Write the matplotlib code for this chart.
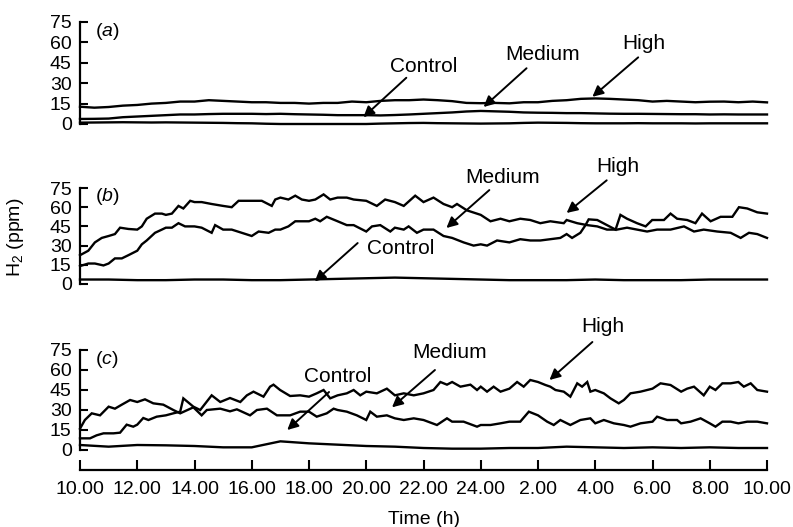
import matplotlib
matplotlib.use('Agg')
import matplotlib.pyplot as plt

plt.rcParams['font.family'] = ['Liberation Sans', 'DejaVu Sans']
plt.rcParams['mathtext.fontset'] = 'custom'
plt.rcParams['mathtext.rm'] = 'Liberation Sans'
plt.rcParams['mathtext.it'] = 'Liberation Sans:italic'

# ---------------- data ----------------
hours = list(range(0, 25))
half_hours = [i * 0.5 for i in range(49)]
tick_hours = list(range(0, 25, 2))
tick_labels = ['10.00', '12.00', '14.00', '16.00', '18.00', '20.00', '22.00',
               '24.00', '2.00', '4.00', '6.00', '8.00', '10.00']
y_ticks = [0, 15, 30, 45, 60, 75]
panel_labels = ['a', 'b', 'c']

# panel (a), half-hourly readings
a_high = [12.7, 12.0, 12.5, 13.5, 14.0, 15.0, 15.5,
          16.5, 16.5, 17.5, 17.0, 16.5, 16.0, 16.0,
          15.5, 15.5, 15.0, 15.5, 15.5, 16.5, 16.0,
          17.0, 17.5, 17.5, 18.0, 17.5, 16.8, 15.5,
          15.3, 15.5, 15.2, 16.0, 16.0, 17.0, 17.5,
          18.5, 18.8, 18.5, 18.0, 17.5, 16.5, 17.0,
          16.5, 16.0, 16.4, 16.5, 16.0, 16.5, 15.9]
a_medium = [3.7, 3.8, 4.0, 5.0, 5.5, 6.0, 6.5,
            7.0, 7.0, 7.3, 7.5, 7.5, 7.5, 7.3,
            7.5, 7.2, 7.0, 6.8, 6.5, 6.5, 6.5,
            6.3, 6.6, 7.0, 7.5, 8.0, 8.5, 9.2,
            9.6, 9.3, 9.0, 8.5, 8.3, 8.2, 8.0,
            8.0, 7.8, 7.6, 7.5, 7.5, 7.4, 7.3,
            7.2, 7.2, 7.0, 7.1, 7.0, 7.0, 7.0]
a_control = [1.0, 1.1, 1.2, 1.3, 1.2, 1.1, 1.2,
             1.1, 1.0, 0.9, 0.8, 0.6, 0.5, 0.2,
             0.0, 0.0, 0.0, 0.0, 0.0, 0.0, 0.0,
             0.3, 0.5, 0.7, 0.8, 0.6, 0.5, 0.4,
             0.3, 0.4, 0.5, 0.8, 1.0, 0.9, 0.8,
             0.6, 0.5, 0.5, 0.5, 0.6, 0.5, 0.5,
             0.5, 0.4, 0.5, 0.5, 0.5, 0.5, 0.5]

# panel (b)
b_high_t = [0.0, 0.29, 0.52, 0.76, 1.0, 1.22, 1.4, 1.69, 2.0, 2.16, 2.33, 2.62, 2.86,
            3.0, 3.21, 3.44, 3.61, 3.85, 4.0, 4.25, 4.6, 5.0, 5.3, 5.54, 6.0, 6.35,
            6.7, 6.82, 7.0, 7.28, 7.52, 7.75, 8.0, 8.22, 8.51, 8.74, 9.0, 9.32, 9.56,
            10.0, 10.37, 10.66, 11.0, 11.31, 11.71, 12.0, 12.35, 12.7, 13.0, 13.17,
            13.52, 14.0, 14.34, 14.69, 15.0, 15.38, 15.73, 16.08, 16.43, 16.9, 17.0,
            17.37, 17.72, 18.07, 18.41, 18.76, 19.11, 19.46, 19.81, 20.16, 20.63,
            21.1, 21.45, 21.79, 22.26, 22.73, 23.08, 23.37, 23.66, 24.0]
b_high_v = [22.5, 26, 32.5, 36, 37.5, 39, 44, 43, 42.5, 45, 51, 55, 55,
            54, 55, 61, 59, 65, 64, 64, 62.5, 61, 60, 65, 65, 65,
            61, 66, 67.5, 66, 69, 66, 65, 66, 70, 66, 67.5, 67.5, 66,
            65, 61, 66, 64, 61, 69, 64, 67.5, 62.5, 60, 62.5,
            57.5, 54, 49, 51, 49, 51, 50, 47.5, 49, 47.5, 50,
            47.5, 46, 45, 42.5, 42.5, 44, 42.5, 41, 42.5, 42.5,
            45, 41, 42.5, 41, 40, 36, 40, 39, 36]
b_medium_t = [0.0, 0.29, 0.52, 0.82, 1.0, 1.22, 1.46, 1.69, 2.0, 2.16, 2.33, 2.62, 2.86,
              3.0, 3.21, 3.44, 3.67, 4.0, 4.25, 4.6, 4.72, 5.0, 5.3, 5.65, 6.0, 6.24,
              6.59, 6.82, 7.0, 7.28, 7.52, 7.75, 8.0, 8.22, 8.39, 8.62, 9.0, 9.32, 9.56,
              10.0, 10.2, 10.49, 10.84, 11.0, 11.31, 11.48, 11.77, 12.0, 12.35, 12.7,
              13.0, 13.4, 13.75, 14.0, 14.22, 14.57, 15.0, 15.38, 15.73, 16.08, 16.43,
              16.78, 17.0, 17.19, 17.48, 17.66, 17.77, 18.07, 18.41, 18.71, 18.88,
              19.11, 19.46, 19.76, 19.99, 20.4, 20.63, 20.86, 21.21, 21.5, 21.73,
              22.03, 22.38, 22.79, 23.02, 23.31, 23.66, 24.0]
b_medium_v = [14, 16, 16, 14.5, 16, 20, 20, 22.5, 26, 31, 34, 40, 42.5,
              44, 44, 47.5, 45, 45, 44, 40, 46, 42.5, 42.5, 40, 37.5, 41,
              40, 42.5, 42.5, 45, 49, 49, 49, 51, 49, 52.5, 49, 46, 46,
              41, 45, 46, 41, 44, 42.5, 45, 40, 42.5, 42.5, 37.5,
              36, 32.5, 30, 31, 30, 34, 32.5, 35, 34, 34, 35,
              36, 39, 36, 40, 46, 50.5, 50, 46, 42.5, 54,
              51, 47.5, 45, 50, 50, 55, 51, 50, 47.5, 55,
              49, 52.5, 52.5, 60, 59, 56, 55]
b_control = [3.5, 3.5, 3, 3, 3.5, 3.5, 3, 3, 3.5, 4, 4.5, 5, 4.5, 4, 3.5, 3, 3, 3,
             3.5, 3, 3, 3, 3.5, 3.5, 3.5]

# panel (c)
c_high_t = [0.0, 0.35, 0.58, 0.82, 1.17, 1.4, 1.63, 1.86, 2.0, 2.21, 2.39, 2.68, 3.0,
            3.26, 3.5, 3.61, 3.96, 4.2, 4.6, 4.9, 5.24, 5.6, 5.83, 6.06, 6.41, 6.64,
            6.76, 6.99, 7.34, 7.69, 8.0, 8.27, 8.51, 8.74, 9.0, 9.32, 9.56, 9.79,
            10.0, 10.37, 10.72, 11.0, 11.31, 11.66, 12.0, 12.35, 12.59, 12.82, 13.0,
            13.29, 13.64, 13.87, 14.0, 14.22, 14.45, 14.69, 15.0, 15.27, 15.5, 15.73,
            16.0, 16.26, 16.43, 16.61, 16.9, 17.13, 17.37, 17.54, 17.72, 17.83, 18.0,
            18.3, 18.53, 18.82, 19.0, 19.23, 19.58, 20.0, 20.28, 20.63, 21.0, 21.21,
            21.45, 21.79, 22.0, 22.2, 22.44, 22.73, 23.0, 23.19, 23.43, 23.66, 24.0]
c_high_v = [8.75, 8.75, 11, 12.5, 12.5, 13, 19, 17.5, 19, 24, 22.5, 25, 26,
            27.5, 28.75, 38.75, 32.5, 30, 41, 36, 39, 36, 41, 43.75, 40, 47.5,
            49, 45, 40.5, 41, 40, 42.5, 45, 38.75, 41, 42.5, 45, 41,
            43.75, 42.5, 46, 41, 42.5, 41, 42.5, 45, 51, 49, 51,
            47.5, 49, 45, 47.5, 43.75, 47.5, 43.75, 46, 51, 47.5, 52.5,
            51, 48.75, 47.5, 45, 43.75, 40, 50, 47.5, 51, 43.75, 45,
            42.5, 38.75, 35, 37.5, 42.5, 43.75, 46, 50, 48.75, 43.75, 46,
            47.5, 41, 47.5, 45, 50, 50, 51, 47.5, 50, 45, 43.75]
c_medium_t = [0.0, 0.17, 0.41, 0.7, 1.0, 1.22, 1.46, 1.75, 2.0, 2.27, 2.56, 2.91, 3.26,
              3.5, 3.96, 4.25, 4.43, 4.9, 5.24, 5.48, 5.94, 6.18, 6.53, 6.88, 7.34,
              7.69, 8.0, 8.27, 8.62, 8.86, 9.0, 9.32, 9.67, 10.0, 10.14, 10.37, 10.72,
              11.0, 11.31, 11.66, 12.0, 12.47, 12.82, 13.0, 13.4, 13.87, 14.0, 14.34,
              14.69, 15.0, 15.38, 15.68, 16.0, 16.32, 16.55, 16.78, 17.13, 17.48,
              17.83, 18.0, 18.3, 18.65, 19.0, 19.23, 19.58, 20.0, 20.16, 20.51, 20.86,
              21.0, 21.33, 21.68, 22.0, 22.2, 22.44, 22.73, 23.0, 23.31, 23.66, 24.0]
c_medium_v = [16, 22.5, 27.5, 26, 32.5, 31, 34, 37.5, 36, 38, 35, 34, 30,
              27.5, 32, 26, 30, 31, 29, 30.5, 26, 30, 31, 26, 26,
              28.75, 28.75, 25, 27.5, 31, 30, 28.75, 26, 22.5, 28.75, 25, 26,
              23.75, 22.5, 23.75, 22.5, 18.75, 23.75, 21.25, 21.25, 17.5, 18.75, 18.75,
              20, 21.25, 21.25, 28.75, 26, 21.25, 18.75, 22.5, 18.75, 22.5,
              23.75, 20, 22.5, 20, 18.75, 17.5, 20, 21.25, 25, 22.5, 22.5,
              20, 21.25, 23.75, 20, 17.5, 21.25, 21.25, 20, 21.25, 21.25, 20]
c_control = [3.75, 2.5, 3.75, 3.5, 3, 2, 2, 6.5, 5, 4, 3, 2.5, 1.5, 1, 1, 1.5, 1.5,
             2.5, 2, 1.5, 2, 1.5, 2, 1.5, 1.5]

# annotation label, text (t, v), arrow start (t, v), arrow tip (t, v)
a_notes = [('Control', (12.0, 42), (11.4, 34), (9.9, 5)),
           ('Medium', (16.15, 51), (15.6, 41), (14.1, 12.5)),
           ('High', (19.7, 59), (19.5, 49), (17.9, 20))]
b_notes = [('Control', (11.2, 28), (9.7, 32), (8.2, 2)),
           ('Medium', (14.75, 83), (14.3, 73.4), (12.8, 43.75)),
           ('High', (18.8, 92), (18.4, 81), (17.0, 55.5))]
c_notes = [('Control', (9.0, 55), (8.7, 43.5), (7.24, 15)),
           ('Medium', (12.9, 73), (12.4, 60), (10.9, 32)),
           ('High', (18.25, 93), (17.9, 81), (16.4, 52.5))]

# ---------------- figure ----------------
W, H = 793, 527
fig = plt.figure(figsize=(W / 100, H / 100), dpi=100)
x0, x1 = 80, 767
panels_px = [(22, 124), (188, 284), (350, 450)]  # (top of 75, y of 0)

axes = []
for top, bot in panels_px:
    ax = fig.add_axes([x0 / W, 1 - bot / H, (x1 - x0) / W, (bot - top) / H])
    axes.append(ax)

series = [
    [(half_hours, a_high), (half_hours, a_medium), (half_hours, a_control)],
    [(b_high_t, b_high_v), (b_medium_t, b_medium_v), (hours, b_control)],
    [(c_high_t, c_high_v), (c_medium_t, c_medium_v), (hours, c_control)],
]
notes = [a_notes, b_notes, c_notes]

for i, ax in enumerate(axes):
    for t, v in series[i]:
        ax.plot(t, v, color='black', lw=1.7, clip_on=False, solid_joinstyle='miter')
    ax.set_xlim(0, 24)
    ax.set_ylim(0, 75)
    ax.set_yticks(y_ticks)
    for s in ['top', 'right']:
        ax.spines[s].set_visible(False)
    ax.spines['left'].set_linewidth(1.6)
    ax.tick_params(axis='y', direction='in', length=6, width=1.5, labelsize=14, pad=6)
    ax.text(0.95, 68, '(' + r'$\mathit{' + panel_labels[i] + '}$' + ')', fontsize=14,
            ha='center', va='center')
    for label, txy, start, tip in notes[i]:
        ax.annotate('', xy=tip, xytext=start, annotation_clip=False,
                    arrowprops=dict(arrowstyle='-|>', color='black', lw=1.4,
                                    mutation_scale=16, shrinkA=0, shrinkB=0))
        ax.text(txy[0], txy[1], label, fontsize=15, ha='center', va='center')
    if i < 2:
        ax.spines['bottom'].set_visible(False)
        ax.tick_params(axis='x', bottom=False, labelbottom=False)
    else:
        ax.spines['bottom'].set_position(('outward', 14.4))
        ax.spines['bottom'].set_linewidth(1.6)
        ax.set_xticks(tick_hours)
        ax.set_xticklabels(tick_labels)
        ax.tick_params(axis='x', direction='in', length=7, width=1.5, labelsize=14, pad=8)
        ax.set_xlabel('Time (h)', fontsize=14, labelpad=9)

fig.text(15 / W, 1 - 237 / H, r'H$_2$ (ppm)', rotation=90, fontsize=14,
         ha='center', va='center')

fig.savefig('out.png', dpi=100)
